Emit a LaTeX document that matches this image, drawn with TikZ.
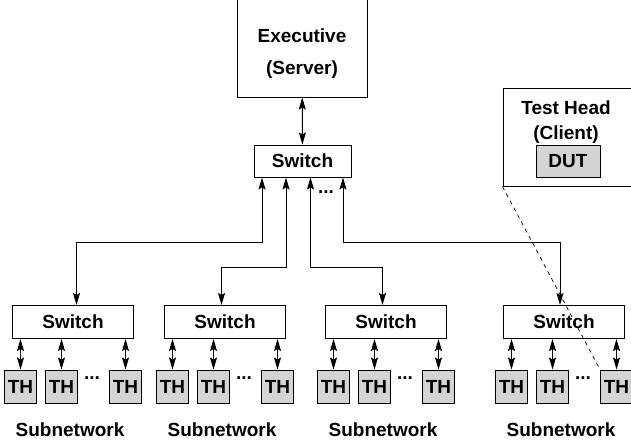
\documentclass[tikz,border=0pt]{standalone}
\usepackage{fontspec}
\setmainfont{Liberation Sans}
\usetikzlibrary{arrows.meta}

\begin{document}
\begin{tikzpicture}[
    x=1pt,y=-1pt,
    font=\fontsize{19}{23}\selectfont\bfseries,line width=1pt,
    every node/.style={inner sep=0pt},
    box/.style={draw,fill=white,minimum height=33pt},
    thbox/.style={draw,fill=black!17,minimum width=32pt,minimum height=33pt},
    link/.style={{Stealth[length=12pt,width=7pt,inset=2pt]}-{Stealth[length=12pt,width=7pt,inset=2pt]}}
]
\useasboundingbox (0,0) rectangle (631,444);

% server and main switch
\node[box,minimum width=130pt,minimum height=100pt,align=center] (exec) at (302,47)
    {\rule{0pt}{26pt}Executive\\[9pt](Server)};
\node[box,minimum width=97pt,minimum height=32pt] (top) at (302.5,161) {Switch};
\draw[link] (exec) -- (top);
\node (topdots) at (326,192) {...};

% subnetworks
\foreach \i/\l in {1/12,2/164,3/325,4/503} {
    \node[box,minimum width=121pt,anchor=north west] (sw\i) at (\l,305) {Switch};
    \foreach \j/\dx in {a/8.5,b/49.5,c/113.5} {
        \node[thbox] (th\i\j) at (\l+\dx,386.5) {TH};
        \draw[link] (th\i\j) -- (th\i\j |- sw\i.south);
    }
    \node (dots\i) at (\l+80,378) {...};
    \node (sub\i) at (\l+58,430) {Subnetwork};
}

% links from main switch
\foreach \i/\a/\b/\y in {1/262/76.5/242,2/286/221.5/267,3/310.5/382.5/267,4/343/560/242} {
    \coordinate (up\i) at (\a,\y);
    \coordinate (dn\i) at (\b,\y);
    \draw[link] (top.south -| up\i) -- (up\i) -- (dn\i) -- (sw\i.north -| dn\i);
}

% test head
\node[draw,fill=white,minimum width=130pt,minimum height=98pt] (testhead) at (568,137) {};
\node[align=center] (client) at (566,122) {Test Head\\[2pt](Client)};
\node[thbox,minimum width=64pt,minimum height=32pt] (dut) at (568,161) {DUT};
\draw[line width=0.7pt,dash pattern=on 4pt off 4pt] (testhead.south west) -- (th4c.north west);

\end{tikzpicture}
\end{document}
